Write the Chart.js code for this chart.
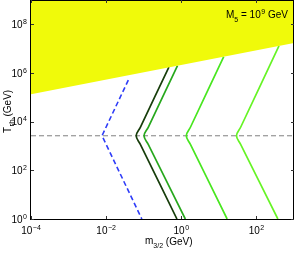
<!DOCTYPE html>
<html>
<head>
<meta charset="utf-8">
<script src="https://cdn.jsdelivr.net/npm/chart.js@4"></script>
<style>
  body { margin: 0; background: #fff; }
</style>
</head>
<body>
<canvas id="gravitinoChart" width="294" height="253"></canvas>
<script>
"use strict";

// axis ranges and tick values
const massRange = [1e-4, 1e3];
const tempRange = [1, 1e9];
const massTicks = [1e-4, 1e-2, 1, 1e2];
const tempTicks = [1, 1e2, 1e4, 1e6, 1e8];

// yellow excluded region, lower edge
const excludedMass = [1e-4, 1e3];
const excludedTemp = [1.35e5, 1.7e7];

// transition temperature (gray dashed)
const transitionTemp = 2630;

// constraint curves
const blueMass = [0.0389, 0.00776, 0.0891];
const blueTemp = [5.13e5, 2630, 1];

const darkMass = [0.468, 0.0813, 0.0631, 0.0813, 0.767];
const darkTemp = [1.74e6, 5890, 2630, 1175, 1];

const midMass = [0.794, 0.132, 0.102, 0.132, 1.28];
const midTemp = [2.0e6, 5890, 2630, 1175, 1];

const light1Mass = [13.5, 1.75, 1.36, 1.75, 16.6];
const light1Temp = [4.68e6, 5890, 2630, 1175, 1];

const light2Mass = [398, 38.0, 29.5, 38.0, 372];
const light2Temp = [1.29e7, 5890, 2630, 1175, 1];

const FONT = '"Liberation Sans", Arial, sans-serif';

function toPoints(xs, ys) {
  return xs.map((x, i) => ({ x: x, y: ys[i] }));
}

function drawPow(ctx, base, exp, x, y, align) {
  ctx.font = "10px " + FONT;
  const wb = ctx.measureText(base).width;
  ctx.font = "7px " + FONT;
  const we = ctx.measureText(exp).width;
  let x0 = x;
  if (align === "center") x0 = x - (wb + we + 0.5) / 2;
  if (align === "right") x0 = x - (wb + we + 0.5);
  ctx.textAlign = "left";
  ctx.textBaseline = "alphabetic";
  ctx.font = "10px " + FONT;
  ctx.fillText(base, x0, y);
  ctx.font = "7px " + FONT;
  ctx.fillText(exp, x0 + wb + 0.5, y - 4);
}

function expOf(v) {
  const e = Math.round(Math.log10(v));
  return e < 0 ? "\u2212" + Math.abs(e) : String(e);
}

const axesPlugin = {
  id: "axesPlugin",
  afterDraw(chart) {
    const ctx = chart.ctx;
    const area = chart.chartArea;
    const xs = chart.scales.x;
    const ys = chart.scales.y;
    ctx.save();
    ctx.strokeStyle = "#000";
    ctx.lineWidth = 1;
    ctx.strokeRect(area.left - 0.5, area.top + 0.5, area.right - area.left, area.bottom - area.top);

    ctx.strokeStyle = "#333";
    ctx.beginPath();
    massTicks.forEach((v) => {
      const px = Math.round(xs.getPixelForValue(v)) + 0.5;
      ctx.moveTo(px, area.bottom);
      ctx.lineTo(px, area.bottom - 3);
      ctx.moveTo(px, area.top);
      ctx.lineTo(px, area.top + 3);
    });
    tempTicks.forEach((v) => {
      const py = Math.round(ys.getPixelForValue(v)) + 0.5;
      ctx.moveTo(area.left, py);
      ctx.lineTo(area.left + 3, py);
      ctx.moveTo(area.right, py);
      ctx.lineTo(area.right - 3, py);
    });
    ctx.stroke();

    ctx.fillStyle = "#000";
    massTicks.forEach((v) => {
      drawPow(ctx, "10", expOf(v), xs.getPixelForValue(v), area.bottom + 15, "center");
    });
    tempTicks.forEach((v) => {
      drawPow(ctx, "10", expOf(v), area.left - 4, ys.getPixelForValue(v) + 3.5, "right");
    });

    // x title
    ctx.textAlign = "left";
    ctx.font = "10px " + FONT;
    let tx = 145;
    ctx.fillText("m", tx, 244);
    tx += ctx.measureText("m").width;
    ctx.font = "7px " + FONT;
    ctx.fillText("3/2", tx, 248);
    tx += ctx.measureText("3/2").width;
    ctx.font = "10px " + FONT;
    ctx.fillText(" (GeV)", tx, 245);

    // y title
    ctx.save();
    ctx.translate(11, 133);
    ctx.rotate(-Math.PI / 2);
    ctx.font = "10px " + FONT;
    let ty = 0;
    ctx.fillText("T", ty, 0);
    ty += ctx.measureText("T").width + 0.5;
    ctx.font = "8px " + FONT;
    ctx.fillText("rh", ty, 3);
    ty += ctx.measureText("rh").width;
    ctx.font = "10px " + FONT;
    ctx.fillText(" (GeV)", ty, 0);
    ctx.restore();

    // M5 label
    ctx.font = "10px " + FONT;
    let mx = 226;
    ctx.fillText("M", mx, 18);
    mx += ctx.measureText("M").width;
    ctx.font = "7px " + FONT;
    ctx.fillText("5", mx, 22);
    mx += ctx.measureText("5").width;
    ctx.font = "10px " + FONT;
    ctx.fillText(" = ", mx, 18);
    mx += ctx.measureText(" = ").width;
    drawPow(ctx, "10", "9", mx, 18, "left");
    ctx.font = "10px " + FONT;
    mx += ctx.measureText("10").width;
    ctx.font = "7px " + FONT;
    mx += ctx.measureText("9").width + 0.5;
    ctx.font = "10px " + FONT;
    ctx.fillText(" GeV", mx, 18);
    ctx.restore();
  },
};

const ctx = document.getElementById("gravitinoChart").getContext("2d");

new Chart(ctx, {
  type: "scatter",
  data: {
    datasets: [
      {
        data: toPoints(excludedMass, excludedTemp),
        showLine: true,
        borderWidth: 0,
        borderColor: "rgba(0,0,0,0)",
        backgroundColor: "#f0fa0a",
        fill: "end",
        pointRadius: 0,
      },
      {
        data: toPoints(blueMass, blueTemp),
        showLine: true,
        borderColor: "#2e3cf8",
        borderWidth: 1.6,
        borderDash: [5, 3],
        pointRadius: 0,
      },
      {
        data: toPoints(darkMass, darkTemp),
        showLine: true,
        borderColor: "#173d0b",
        borderWidth: 1.7,
        tension: 0.4,
        pointRadius: 0,
      },
      {
        data: toPoints(midMass, midTemp),
        showLine: true,
        borderColor: "#27a81d",
        borderWidth: 1.7,
        tension: 0.4,
        pointRadius: 0,
      },
      {
        data: toPoints(light1Mass, light1Temp),
        showLine: true,
        borderColor: "#48e61f",
        borderWidth: 1.7,
        tension: 0.4,
        pointRadius: 0,
      },
      {
        data: toPoints(light2Mass, light2Temp),
        showLine: true,
        borderColor: "#66f425",
        borderWidth: 1.7,
        tension: 0.4,
        pointRadius: 0,
      },
      {
        data: toPoints(massRange, [transitionTemp, transitionTemp]),
        showLine: true,
        borderColor: "#808080",
        borderWidth: 1,
        borderDash: [5, 3],
        pointRadius: 0,
      },
    ],
  },
  options: {
    responsive: false,
    animation: false,
    layout: { padding: 0 },
    plugins: {
      legend: { display: false },
      tooltip: { enabled: false },
    },
    scales: {
      x: {
        type: "logarithmic",
        min: massRange[0],
        max: massRange[1],
        ticks: { display: false },
        grid: { display: false },
        border: { display: false },
        afterFit(scale) {
          scale.height = 34;
        },
      },
      y: {
        type: "logarithmic",
        min: tempRange[0],
        max: tempRange[1],
        ticks: { display: false },
        grid: { display: false },
        border: { display: false },
        afterFit(scale) {
          scale.width = 31;
        },
      },
    },
  },
  plugins: [axesPlugin],
});
</script>
</body>
</html>
